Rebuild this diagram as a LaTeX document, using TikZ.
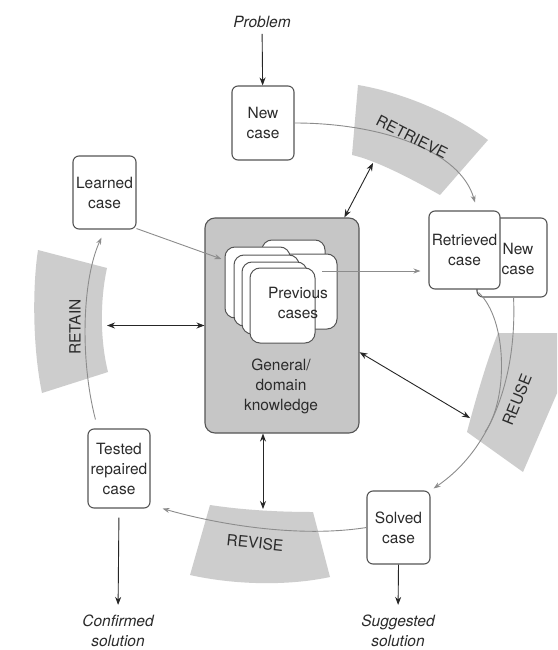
\documentclass[tikz,border=0pt]{standalone}
\usepackage{fontspec}
\setmainfont{TeX Gyre Heros}
\usetikzlibrary{arrows.meta,calc}
\definecolor{bandgray}{HTML}{CDCDCD}
\definecolor{kngray}{HTML}{C6C6C6}
\definecolor{edgec}{HTML}{555555}
\definecolor{txtc}{HTML}{2B2B2B}
\definecolor{flowc}{HTML}{8C8C8C}
\newcommand{\dgmfont}{\fontsize{15.5}{20}\selectfont}
\newcommand{\dgmit}{\fontsize{15.5}{20}\selectfont\itshape}
\tikzset{
  box/.style={draw=edgec, line width=1.1pt, rounded corners=6pt, fill=white, inner sep=0pt, align=center, text=txtc, font=\dgmfont},
  card/.style={draw=edgec, line width=1pt, rounded corners=10pt, fill=white, inner sep=0pt},
  plain/.style={inner sep=0pt, align=center, text=txtc, font=\dgmfont},
  lbl/.style={inner sep=0pt, align=center, text=txtc, font=\dgmit},
  bandlbl/.style={inner sep=0pt, text=txtc, font=\dgmfont},
  band/.style={fill=bandgray, draw=none},
  blk/.style={draw=black!85, line width=0.9pt, -{Stealth[length=8pt,width=6pt]}},
  dbl/.style={draw=black!85, line width=0.9pt, {Stealth[length=8pt,width=6pt]}-{Stealth[length=8pt,width=6pt]}},
  flowarr/.style={draw=flowc, line width=0.9pt, -{Stealth[length=7pt,width=5pt]}},
  flowline/.style={draw=flowc, line width=0.9pt}
}
\begin{document}
\begin{tikzpicture}[x=1pt,y=-1pt]
\useasboundingbox (0,0) rectangle (557,650);
\fill[white] (0,0) rectangle (557,650);

% bands
\begin{scope}
\clip (0,0) rectangle (557,650);
\path[band] (358,85) .. controls (400,92) and (450,112) .. (488,140) -- (440,195)
  .. controls (410,178) and (375,160) .. (352,155) -- cycle;
\path[band] (467,432) .. controls (476,398) and (487,360) .. (498,333) -- (580,333) -- (580,340) -- (523,472) -- cycle;
\path[band] (210,505) .. controls (243,510) and (278,512) .. (313,512) -- (330,577)
  .. controls (288,586) and (235,585) .. (190,575) -- cycle;
\path[band] (38,250) -- (107,268) .. controls (100,300) and (100,340) .. (108,372)
  -- (42,393) .. controls (33,350) and (32,290) .. (38,250) -- cycle;
\end{scope}

% knowledge box and cases
\node[box, rounded corners=10pt, fill=kngray, minimum width=154pt, minimum height=215pt] (know) at (282,325.5) {};
\node[card, minimum width=63pt, minimum height=78pt] (ca) at (293.5,279) {};
\node[card, minimum width=65pt, minimum height=75pt] (cb) at (304.5,291.5) {};
\node[card, minimum width=65pt, minimum height=71pt] (c1) at (257.5,282.5) {};
\node[card, minimum width=65pt, minimum height=71pt] (c2) at (266.5,290.5) {};
\node[card, minimum width=65pt, minimum height=72pt] (c3) at (274.5,298) {};
\node[card, minimum width=65pt, minimum height=75pt] (c4) at (282.5,305.5) {};
\node[plain] (prevtxt) at (298,303) {Previous\\cases};
\node[plain] (knowtxt) at (281,386.5) {General/\\domain\\knowledge};

% case boxes
\node[box, minimum width=62pt, minimum height=74pt] (newcase) at (263,123) {New\\case};
\node[box, minimum width=63pt, minimum height=73pt] (learned) at (104.5,192.5) {Learned\\case};
\node[box, minimum width=70pt, minimum height=79pt] (newcase2) at (512,257.5) {};
\node[plain] (newcase2t) at (518,259) {New\\case};
\node[box, minimum width=71pt, minimum height=78pt] (retr) at (464.5,250) {Retrieved\\case};
\node[box, minimum width=62pt, minimum height=79pt] (tested) at (119,468.5) {Tested\\repaired\\case};
\node[box, minimum width=63pt, minimum height=73pt] (solved) at (398.5,527.5) {Solved\\case};

% outside labels
\node[lbl] (problem) at (262,22) {Problem};
\node[lbl] (confirmed) at (118,631) {Confirmed\\solution};
\node[lbl] (suggested) at (398,631) {Suggested\\solution};

% grey cycle arrows
\draw[flowarr] (newcase.east) .. controls (380,123) and (460,150) .. ([xshift=10.5pt,yshift=8pt]retr.north);
\coordinate (pcs) at (322,271);
\draw[flowarr, shorten >=8pt] (pcs) -- (pcs -| retr.west);
\draw[flowarr] ([yshift=1pt]learned.south east) -- ([xshift=-3pt,yshift=23.5pt]c1.west);
\coordinate (merge) at (485,432);
\draw[flowline] ([xshift=-22pt,yshift=-3pt]retr.south east) .. controls (508,320) and (508,400) .. (merge);
\draw[flowarr] ([xshift=-34pt]newcase2.south east) .. controls (517,380) and (490,450) .. ([xshift=3pt,yshift=2pt]solved.north east);
\draw[flowarr] (solved.west) .. controls (300,538) and (220,525) .. ([xshift=12pt]tested.south east);
\draw[flowarr] ([xshift=8pt,yshift=9pt]tested.north west) .. controls (80,360) and (82,280) .. ([xshift=29pt,yshift=-8pt]learned.south west);

% band labels
\node[bandlbl, rotate=-27] (retrieve) at (412,137) {RETRIEVE};
\node[bandlbl, rotate=68] (reuse) at (517,400) {REUSE};
\node[bandlbl, rotate=-6] (revise) at (255,543) {REVISE};
\node[bandlbl, rotate=90] (retain) at (75,327) {RETAIN};

% black arrows
\draw[blk, shorten <=6pt] (problem) -- (newcase);
\draw[blk, shorten <=9pt, shorten >=10pt] (tested.south) -- (confirmed.north);
\draw[blk, shorten >=10pt] (solved.south) -- (suggested.north);
\coordinate (retrB) at (373,163);
\coordinate (reuseB) at (470,418);
\coordinate (retainB) at (107,325.5);
\coordinate (reviseB) at (263,509);
\draw[dbl] (know.60) -- (retrB);
\draw[dbl] (know.-19) -- (reuseB);
\draw[dbl] (know.west) -- (retainB);
\draw[dbl] (know.south -| reviseB) -- (reviseB);
\end{tikzpicture}
\end{document}
